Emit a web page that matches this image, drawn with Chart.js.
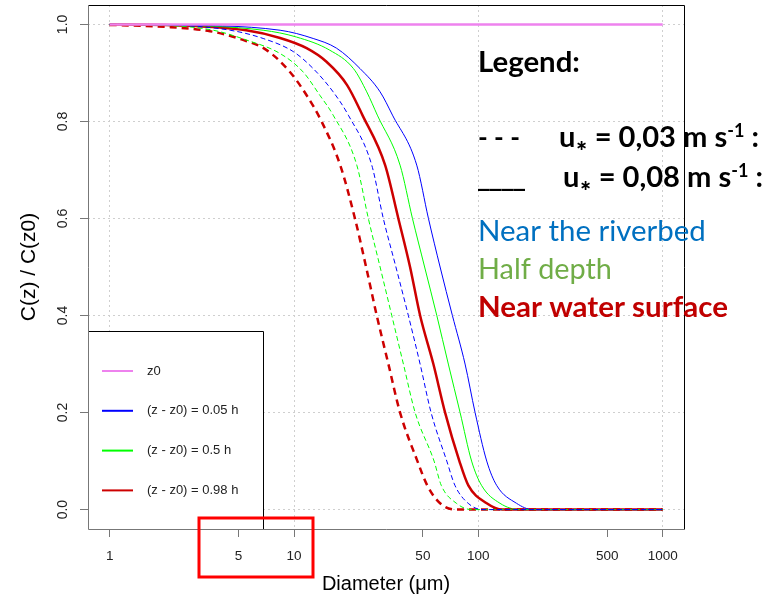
<!DOCTYPE html>
<html>
<head>
<meta charset="utf-8">
<script src="https://cdn.jsdelivr.net/npm/chart.js@4.4.1/dist/chart.umd.min.js"></script>
<style>
    html, body { margin: 0; padding: 0; background: #fff; }
    #wrap { width: 778px; height: 598px; }
</style>
</head>
<body>
<div id="wrap"><canvas id="chart" width="778" height="598"></canvas></div>
<script>
// ============= dados ======================================

const xTicks = [1, 5, 10, 50, 100, 500, 1000]
const xGrid = [1, 10, 100, 1000]
const yTicks = [0, 0.2, 0.4, 0.6, 0.8, 1]

const zLabels = ['z0', '(z - z0) = 0.05 h', '(z - z0) = 0.5 h', '(z - z0) = 0.98 h']

// z0 (referência)
const dRef = [1, 1000]
const cRef = [1, 1]

// u* = 0,03 m/s (tracejado)
const dBedSlow = [1, 2, 4.5, 6.8, 9.9, 12.7, 16.3, 19.7, 26.4, 30.5, 35.7, 41.7, 48.3, 55.4, 67.4, 74.6, 88, 106, 1000]
const cBedSlow = [1, 0.999, 0.988, 0.971, 0.944, 0.909, 0.861, 0.813, 0.71, 0.6, 0.5, 0.4, 0.3, 0.2, 0.1, 0.05, 0.013, 0, 0]

const dHalfSlow = [1, 2, 3.65, 5.5, 8.4, 11.2, 13.8, 16.3, 21.9, 25.3, 29.3, 33.9, 39.2, 45.4, 57.5, 62.9, 76, 92, 1000]
const cHalfSlow = [1, 0.998, 0.988, 0.968, 0.94, 0.902, 0.854, 0.813, 0.71, 0.6, 0.5, 0.4, 0.3, 0.2, 0.1, 0.05, 0.013, 0, 0]

const dTopSlow = [1, 2, 3.5, 5.1, 7.1, 9.5, 11.7, 14.1, 17.8, 21.4, 24.6, 28.1, 32.5, 37.6, 46.7, 52.8, 62, 75, 1000]
const cTopSlow = [0.999, 0.995, 0.986, 0.97, 0.947, 0.902, 0.854, 0.8, 0.71, 0.6, 0.5, 0.4, 0.3, 0.2, 0.1, 0.05, 0.013, 0, 0]

// u* = 0,08 m/s (contínuo)
const dBedFast = [1, 2, 8.4, 12.7, 17.0, 22.8, 29.3, 34.2, 46.3, 53.6, 62.0, 72.3, 84.7, 96.0, 111, 125.6, 161, 197, 1000]
const cBedFast = [1, 0.999, 0.988, 0.971, 0.951, 0.909, 0.861, 0.813, 0.71, 0.6, 0.5, 0.4, 0.3, 0.2, 0.1, 0.05, 0.013, 0, 0]

const dHalfFast = [1, 2, 6.8, 10.3, 15.6, 21.0, 24.8, 28.3, 37.6, 43.9, 51.1, 59.5, 68.7, 79.6, 91.9, 104, 131, 168, 1000]
const cHalfFast = [1, 0.999, 0.988, 0.974, 0.947, 0.909, 0.861, 0.813, 0.71, 0.6, 0.5, 0.4, 0.3, 0.2, 0.1, 0.05, 0.013, 0, 0]

const dTopFast = [1, 2, 5.5, 8.4, 11.7, 15.0, 19.4, 23.5, 31.2, 36.8, 42.6, 48.3, 57.0, 66.0, 78.9, 88.2, 111, 135, 1000]
const cTopFast = [1, 0.999, 0.988, 0.972, 0.951, 0.923, 0.875, 0.813, 0.71, 0.6, 0.5, 0.4, 0.3, 0.2, 0.1, 0.05, 0.013, 0, 0]

const colors = ['#EE82EE', '#0000FF', '#00FF00', '#CD0000']

// texto da legenda à direita
const noteLegend = 'Legend:'
const noteSlow = [['u', 'n'], ['\u2217', 'sub'], [' = 0,03 m s', 'n'], ['-1', 'sup'], [' :', 'n']]
const noteFast = [['u', 'n'], ['\u2217', 'sub'], [' = 0,08 m s', 'n'], ['-1', 'sup'], [' :', 'n']]
const notePlaces = ['Near the riverbed', 'Half depth', 'Near water surface']
const placeColors = ['#0070C0', '#70AD47', '#C00000']

Chart.defaults.font.family = "'Liberation Sans', Arial, sans-serif"

function serie(label, xs, ys, color, width, dash) {
    return {
        label: label,
        data: xs.map((x, i) => ({ x: x, y: ys[i] })),
        borderColor: color,
        borderWidth: width,
        borderDash: dash,
        pointRadius: 0,
        fill: false,
        cubicInterpolationMode: 'monotone'
    }
}

const NOTE_FONT = "Lato, 'DejaVu Sans', sans-serif"
const SCALES = { n: 1, sub: 0.5, sup: 0.62 }

function runFont(kind, size, weight, family) {
    return `${weight} ${size * SCALES[kind]}px ${family || NOTE_FONT}`
}

function runsWidth(ctx, runs, size, weight, family) {
    let w = 0
    runs.forEach(r => {
        ctx.font = runFont(r[1], size, weight, family)
        w += ctx.measureText(r[0]).width
    })
    return w
}

function drawRuns(ctx, runs, x, y, target, weight, color, family) {
    const size = 100 * target / runsWidth(ctx, runs, 100, weight, family)
    ctx.fillStyle = color
    ctx.textAlign = 'left'
    ctx.textBaseline = 'alphabetic'
    runs.forEach(r => {
        ctx.font = runFont(r[1], size, weight, family)
        let dy = 0
        if (r[1] === 'sub') dy = size * 0.12
        if (r[1] === 'sup') dy = -size * 0.36
        ctx.fillText(r[0], x, y + dy)
        x += ctx.measureText(r[0]).width
    })
}

const overlay = {
    id: 'overlay',
    afterDraw(chart) {
        const ctx = chart.ctx
        const { left, top, right, bottom } = chart.chartArea
        ctx.save()

        // legenda do R (canto inferior esquerdo)
        ctx.fillStyle = '#fff'
        ctx.fillRect(left, 331, 175, bottom - 331)
        ctx.strokeStyle = '#000'
        ctx.lineWidth = 1
        ctx.beginPath()
        ctx.moveTo(left, 331.5)
        ctx.lineTo(263.5, 331.5)
        ctx.lineTo(263.5, bottom)
        ctx.stroke()

        ctx.font = "13px 'Liberation Sans', Arial, sans-serif"
        ctx.textAlign = 'left'
        ctx.textBaseline = 'middle'
        zLabels.forEach((lab, i) => {
            const y = 371 + i * 39.8
            ctx.strokeStyle = colors[i]
            ctx.lineWidth = 2
            ctx.beginPath()
            ctx.moveTo(102, y)
            ctx.lineTo(133, y)
            ctx.stroke()
            ctx.fillStyle = '#222'
            ctx.fillText(lab, 147, y)
        })

        // moldura
        ctx.lineWidth = 1
        ctx.strokeStyle = '#000'
        ctx.beginPath()
        ctx.moveTo(left, top + 0.5)
        ctx.lineTo(right + 0.5, top + 0.5)
        ctx.lineTo(right + 0.5, bottom)
        ctx.stroke()
        ctx.strokeStyle = '#777'
        ctx.beginPath()
        ctx.moveTo(left + 0.5, top)
        ctx.lineTo(left + 0.5, bottom + 0.5)
        ctx.lineTo(right + 1, bottom + 0.5)
        ctx.stroke()

        // retângulo vermelho
        ctx.strokeStyle = '#FF0000'
        ctx.lineWidth = 3
        ctx.strokeRect(199, 518, 114, 59)

        // notas à direita
        drawRuns(ctx, [[noteLegend, 'n']], 478, 72, 102, 'bold', '#000')
        drawRuns(ctx, [['- - -', 'n']], 478, 147, 42, 'bold', '#000')
        drawRuns(ctx, noteSlow, 559, 147, 200, 'bold', '#000')
        drawRuns(ctx, [['____', 'n']], 478, 186, 47, 'bold', '#000', "'DejaVu Sans', sans-serif")
        drawRuns(ctx, noteFast, 563, 187, 200, 'bold', '#000')
        drawRuns(ctx, [[notePlaces[0], 'n']], 478, 241, 228, 'normal', placeColors[0])
        drawRuns(ctx, [[notePlaces[1], 'n']], 478, 279, 134, 'normal', placeColors[1])
        drawRuns(ctx, [[notePlaces[2], 'n']], 478, 317, 250, 'bold', placeColors[2])

        ctx.restore()
    }
}

const ctx = document.getElementById('chart').getContext('2d')
new Chart(ctx, {
    type: 'line',
    data: {
        datasets: [
            serie('z0', dRef, cRef, colors[0], 2.5, []),
            serie('0.05 h, 0.03', dBedSlow, cBedSlow, colors[1], 1, [5, 3]),
            serie('0.5 h, 0.03', dHalfSlow, cHalfSlow, colors[2], 1, [5, 3]),
            serie('0.98 h, 0.03', dTopSlow, cTopSlow, colors[3], 2.5, [7, 5]),
            serie('0.05 h, 0.08', dBedFast, cBedFast, colors[1], 1, []),
            serie('0.5 h, 0.08', dHalfFast, cHalfFast, colors[2], 1, []),
            serie('0.98 h, 0.08', dTopFast, cTopFast, colors[3], 2.5, [])
        ]
    },
    options: {
        responsive: false,
        animation: false,
        devicePixelRatio: 1,
        layout: { padding: { left: 0, top: 5, right: 94, bottom: 0 } },
        plugins: {
            legend: { display: false },
            tooltip: { enabled: false }
        },
        scales: {
            x: {
                type: 'logarithmic',
                position: 'bottom',
                min: 0.7624,
                max: 1305,
                bounds: 'data',
                afterBuildTicks: s => { s.ticks = xTicks.map(v => ({ value: v })) },
                afterFit: s => { s.height = 69; s.paddingLeft = 0; s.paddingRight = 0 },
                ticks: {
                    autoSkip: false,
                    minRotation: 0,
                    maxRotation: 0,
                    padding: 11,
                    color: '#222',
                    font: { size: 13.5 },
                    callback: v => String(v)
                },
                grid: {
                    color: c => (c.tick && xGrid.includes(c.tick.value)) ? '#cfcfcf' : 'rgba(0,0,0,0)',
                    lineWidth: 1,
                    tickLength: 8,
                    tickColor: '#777',
                    tickWidth: 1
                },
                border: { display: false, dash: [2, 3] },
                title: {
                    display: true,
                    text: 'Diameter (\u03bcm)',
                    color: '#000',
                    font: { size: 20 },
                    padding: { top: 0, bottom: 2 }
                }
            },
            y: {
                type: 'linear',
                min: -0.04,
                max: 1.04,
                bounds: 'data',
                afterBuildTicks: s => { s.ticks = yTicks.map(v => ({ value: v })) },
                afterFit: s => { s.width = 88; s.paddingTop = 0; s.paddingBottom = 0 },
                ticks: {
                    autoSkip: false,
                    minRotation: 90,
                    maxRotation: 90,
                    crossAlign: 'center',
                    padding: 7,
                    color: '#222',
                    font: { size: 14 },
                    callback: v => v.toFixed(1)
                },
                grid: {
                    color: '#cfcfcf',
                    lineWidth: 1,
                    tickLength: 8,
                    tickColor: '#777',
                    tickWidth: 1
                },
                border: { display: false, dash: [2, 3] },
                title: {
                    display: true,
                    text: 'C(z) / C(z0)',
                    color: '#000',
                    font: { size: 21 },
                    padding: { top: 17, bottom: 0 }
                }
            }
        }
    },
    plugins: [overlay]
})
</script>
</body>
</html>
